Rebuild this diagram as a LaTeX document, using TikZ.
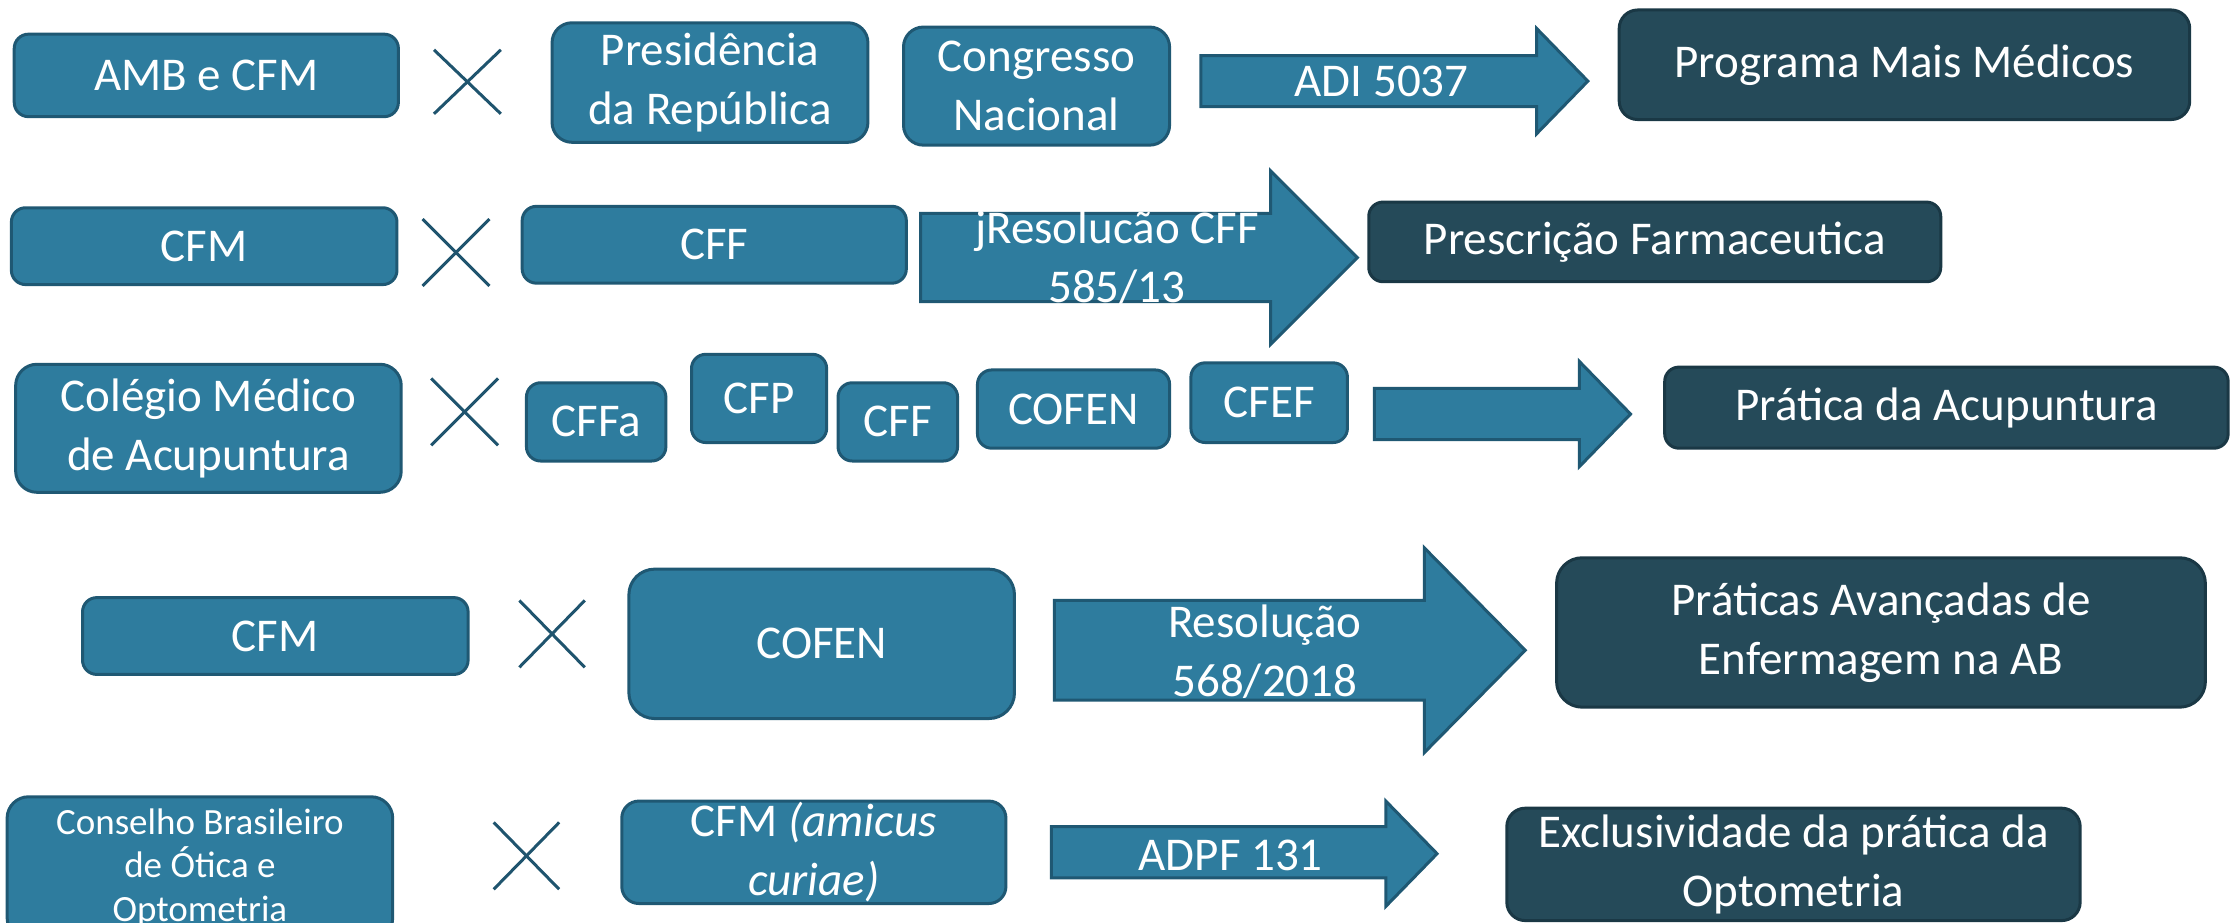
\documentclass[tikz,border=0pt]{standalone}
\usepackage{fontspec}
\setmainfont{Carlito}
\usepackage{tikz}
\definecolor{boxblue}{RGB}{46,124,158}
\definecolor{boxline}{RGB}{31,88,115}
\definecolor{darkbox}{RGB}{37,74,89}
\definecolor{darkline}{RGB}{26,56,69}
\definecolor{crossline}{RGB}{31,84,110}
\tikzstyle{org}=[draw=boxline,fill=boxblue,line width=0.6pt,rounded corners=1mm,text=white,align=center,inner sep=0pt,font=\fontsize{9.4}{11.7}\selectfont]
\tikzstyle{result}=[org,draw=darkline,fill=darkbox]
\tikzstyle{blockarrow}=[draw=boxline,fill=boxblue,line width=0.6pt]
\tikzstyle{arrowtext}=[text=white,align=center,inner sep=0pt,font=\fontsize{9.4}{11.7}\selectfont]
\tikzstyle{versus}=[draw=crossline,line width=0.6pt]
\begin{document}
\begin{tikzpicture}[x=0.1mm,y=-0.1mm]
\useasboundingbox (0,0) rectangle (1568,648);
% first row
\node[org,minimum width=27mm,minimum height=5.8mm] (amb) at (145,53) {AMB e CFM};
\node[org,minimum width=22.2mm,minimum height=8.4mm,rounded corners=1.4mm] (pres) at (499,58) {Presidência\\da República};
\node[org,minimum width=18.7mm,minimum height=8.3mm,rounded corners=1.4mm] (cong) at (728.5,60.5) {Congresso\\Nacional};
\node[result,minimum width=40.1mm,minimum height=7.7mm,rounded corners=1.3mm] (mais) at (1338.5,45.5) {Programa Mais Médicos};
\draw[versus] (305,35) -- (352,80);
\draw[versus] (305,80) -- (352,35);
\filldraw[blockarrow] (844,39) -- (1080,39) -- (1080,20) -- (1116,57) -- (1080,94) -- (1080,75) -- (844,75) -- cycle;
\node[arrowtext] (adi) at (971,57) {ADI 5037};
% second row
\node[org,minimum width=27.1mm,minimum height=5.4mm] (cfma) at (143.5,173) {CFM};
\node[org,minimum width=27mm,minimum height=5.4mm] (cffa) at (502,172) {CFF};
\node[result,minimum width=40.2mm,minimum height=5.6mm] (farm) at (1163,170) {Prescrição Farmaceutica};
\draw[versus] (297,154) -- (344,201);
\draw[versus] (297,201) -- (344,154);
\filldraw[blockarrow] (647,150) -- (893,150) -- (893,120) -- (954,181) -- (893,242) -- (893,212) -- (647,212) -- cycle;
\node[arrowtext] (res585) at (785,181) {jResolucão CFF\\585/13};
% third row
\node[org,minimum width=27.1mm,minimum height=9mm,rounded corners=1.5mm] (colegio) at (146.5,301) {Colégio Médico\\de Acupuntura};
\node[org,minimum width=9.8mm,minimum height=5.5mm] (cffono) at (419,296.5) {CFFa};
\node[org,minimum width=9.5mm,minimum height=6.2mm] (cfp) at (533.5,280) {CFP};
\node[org,minimum width=8.4mm,minimum height=5.5mm] (cffb) at (631,296.5) {CFF};
\node[org,minimum width=13.5mm,minimum height=5.5mm] (cofena) at (754.5,287.5) {COFEN};
\node[org,minimum width=11mm,minimum height=5.6mm] (cfef) at (892,283) {CFEF};
\node[result,minimum width=39.6mm,minimum height=5.7mm] (acup) at (1368,286.5) {Prática da Acupuntura};
\draw[versus] (303,266) -- (350,313);
\draw[versus] (303,313) -- (350,266);
\filldraw[blockarrow] (966,273) -- (1110,273) -- (1110,254) -- (1146,291) -- (1110,328) -- (1110,309) -- (966,309) -- cycle;
% fourth row
\node[org,minimum width=27.1mm,minimum height=5.4mm] (cfmb) at (193.5,447) {CFM};
\node[org,minimum width=27.1mm,minimum height=10.5mm,rounded corners=1.8mm] (cofenb) at (577.5,452.5) {COFEN};
\node[result,minimum width=45.6mm,minimum height=10.5mm,rounded corners=1.8mm] (prat) at (1322,444.5) {Práticas Avançadas de\\Enfermagem na AB};
\draw[versus] (365,422) -- (411,469);
\draw[versus] (365,469) -- (411,422);
\filldraw[blockarrow] (741,422) -- (1001,422) -- (1001,385) -- (1072,457) -- (1001,529) -- (1001,492) -- (741,492) -- cycle;
\node[arrowtext] (res568) at (889,458) {Resolução\\568/2018};
% fifth row
\node[org,minimum width=27.1mm,minimum height=10mm,rounded corners=1.5mm,font=\fontsize{7.4}{8.7}\selectfont] (cbo) at (140.5,610) {Conselho Brasileiro\\de Ótica e\\Optometria};
\node[org,minimum width=27mm,minimum height=7.2mm,rounded corners=1.2mm] (cfmc) at (572,599) {CFM \textit{(amicus}\\\textit{curiae)}};
\node[result,minimum width=40.3mm,minimum height=7.9mm,rounded corners=1.3mm] (excl) at (1260.5,607.5) {Exclusividade da prática da\\Optometria};
\draw[versus] (347,578) -- (393,625);
\draw[versus] (347,625) -- (393,578);
\filldraw[blockarrow] (739,581) -- (974,581) -- (974,563) -- (1010,600) -- (974,637) -- (974,617) -- (739,617) -- cycle;
\node[arrowtext] (adpf) at (865,601) {ADPF 131};
\end{tikzpicture}
\end{document}
